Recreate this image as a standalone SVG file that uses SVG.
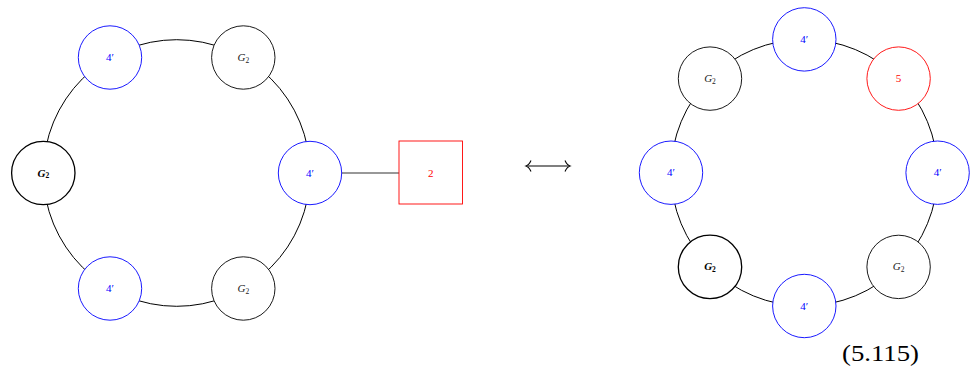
<svg xmlns="http://www.w3.org/2000/svg" width="975" height="372" viewBox="0 0 975 372">
<style>
.ring{fill:none;stroke:#000;stroke-width:1}
.edge{stroke:#333;stroke-width:1.1;fill:none}
.n{fill:#fff;stroke:#000;stroke-width:0.9}
.nb{fill:#fff;stroke:#000;stroke-width:1.3}
.nblue{fill:#fff;stroke:#0000ff;stroke-width:0.9}
.nred{fill:#fff;stroke:#ff0000;stroke-width:0.9}
.t{font-family:"Liberation Serif",serif;font-size:11px;text-anchor:middle}
.g{fill:#222;font-style:italic}
.gb{fill:#000;font-style:italic;font-weight:bold}
.b{fill:#0000ff}
.r{fill:#ff0000}
.sub{font-size:7.5px;font-style:normal}
.eq{font-family:"Liberation Serif",serif;font-size:24px;fill:#000}
</style>
<rect width="975" height="372" fill="#fff"/>
<g id="connectors">
<circle class="ring" cx="176.7" cy="173" r="133.3"/>
<line class="edge" x1="341.7" y1="173" x2="399" y2="173"/>
<circle class="ring" cx="804.3" cy="172.7" r="133.3"/>
<path d="M528 166 H568" stroke="#000" stroke-width="1.1" fill="none"/>
<path d="M531 160.5 Q529 165 526 166 Q529 167 531 171.5" stroke="#000" stroke-width="1.1" fill="none"/>
<path d="M565 160.5 Q567 165 570 166 Q567 167 565 171.5" stroke="#000" stroke-width="1.1" fill="none"/>
</g>
<g id="L_G2_left"><circle class="nb" cx="43.3" cy="173" r="31.7"/><text class="t gb" x="43.3" y="176.5">G<tspan class="sub" dy="1.5">2</tspan></text></g>
<g id="L_4_topleft"><circle class="nblue" cx="110" cy="57.5" r="31.7"/><text class="t b" x="110" y="61">4′</text></g>
<g id="L_G2_topright"><circle class="n" cx="243.3" cy="57.5" r="31.7"/><text class="t g" x="243.3" y="61">G<tspan class="sub" dy="1.5">2</tspan></text></g>
<g id="L_4_right"><circle class="nblue" cx="310" cy="173" r="31.7"/><text class="t b" x="310" y="176.5">4′</text></g>
<g id="L_G2_bottomright"><circle class="n" cx="243.3" cy="288.5" r="31.7"/><text class="t g" x="243.3" y="292">G<tspan class="sub" dy="1.5">2</tspan></text></g>
<g id="L_4_bottomleft"><circle class="nblue" cx="110" cy="288.5" r="31.7"/><text class="t b" x="110" y="292">4′</text></g>
<g id="L_box2"><rect x="399" y="141" width="63.5" height="63" fill="#fff" stroke="#ff0000" stroke-width="0.9"/><text class="t r" x="430.7" y="176.5">2</text></g>
<g id="R_4_top"><circle class="nblue" cx="804.3" cy="39.4" r="31.7"/><text class="t b" x="804.3" y="43">4′</text></g>
<g id="R_5"><circle class="nred" cx="898.6" cy="78.6" r="31.7"/><text class="t r" x="898.6" y="82">5</text></g>
<g id="R_4_right"><circle class="nblue" cx="937.6" cy="172.7" r="31.7"/><text class="t b" x="937.6" y="176.2">4′</text></g>
<g id="R_G2_bottomright"><circle class="n" cx="898.6" cy="266.9" r="31.7"/><text class="t g" x="898.6" y="270.4">G<tspan class="sub" dy="1.5">2</tspan></text></g>
<g id="R_4_bottom"><circle class="nblue" cx="804.3" cy="306" r="31.7"/><text class="t b" x="804.3" y="309.5">4′</text></g>
<g id="R_G2_bottomleft"><circle class="nb" cx="710" cy="266.9" r="31.7"/><text class="t gb" x="710" y="270.4">G<tspan class="sub" dy="1.5">2</tspan></text></g>
<g id="R_4_left"><circle class="nblue" cx="671" cy="172.7" r="31.7"/><text class="t b" x="671" y="176.2">4′</text></g>
<g id="R_G2_topleft"><circle class="n" cx="710" cy="78.6" r="31.7"/><text class="t g" x="710" y="82">G<tspan class="sub" dy="1.5">2</tspan></text></g>
<text class="eq" x="842" y="361" textLength="77" lengthAdjust="spacingAndGlyphs">(5.115)</text>
</svg>
